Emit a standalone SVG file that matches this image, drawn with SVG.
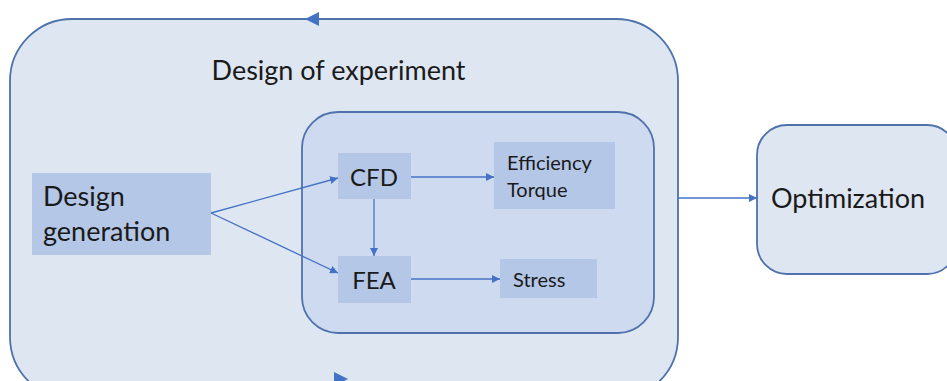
<svg xmlns="http://www.w3.org/2000/svg" width="947" height="381" viewBox="0 0 947 381">
<style>
.t{font-family:Lato,"Open Sans","Liberation Sans",sans-serif;fill:#1a1a1a}
.box{fill:#b4c7e7}
.c{stroke:#4472c4;stroke-width:1.3;fill:none}
.frame{stroke:#4f72ad;stroke-width:1.8}
</style>
<defs>
<marker id="ah" viewBox="0 0 10 10" refX="10" refY="5" markerWidth="8" markerHeight="8" markerUnits="userSpaceOnUse" orient="auto"><path d="M0,0L10,5L0,10z" fill="#4472c4"/></marker>
<marker id="big" viewBox="0 0 10 10" refX="5" refY="5" markerWidth="14" markerHeight="14" markerUnits="userSpaceOnUse" orient="auto"><path d="M0,0L10,5L0,10z" fill="#4472c4"/></marker>
</defs>
<rect width="947" height="381" fill="#ffffff"/>
<g id="doe">
<rect x="10" y="19" width="668" height="380" rx="62" fill="#dee6f2" class="frame"/>
<text class="t" x="338.5" y="80" font-size="27" text-anchor="middle">Design of experiment</text>
</g>
<g id="sim">
<rect x="302" y="112" width="352" height="221" rx="36" fill="#cddaf0" class="frame"/>
</g>
<g id="designgen">
<rect class="box" x="32" y="173" width="179" height="82"/>
<text class="t" x="43" y="206" font-size="27">Design</text>
<text class="t" x="43" y="241" font-size="27">generation</text>
</g>
<g id="cfd">
<rect class="box" x="338" y="153" width="73" height="46"/>
<text class="t" x="374" y="186" font-size="24" text-anchor="middle">CFD</text>
</g>
<g id="fea">
<rect class="box" x="338" y="256" width="73" height="47"/>
<text class="t" x="374" y="289" font-size="24" text-anchor="middle">FEA</text>
</g>
<g id="eff">
<rect class="box" x="494" y="142" width="121" height="67"/>
<text class="t" x="507" y="170" font-size="20">Efficiency</text>
<text class="t" x="507" y="197" font-size="20">Torque</text>
</g>
<g id="stress">
<rect class="box" x="500" y="259" width="97" height="39"/>
<text class="t" x="513" y="287" font-size="20">Stress</text>
</g>
<g id="opt">
<rect x="757" y="125" width="200" height="149" rx="30" fill="#dee6f2" class="frame"/>
<text class="t" x="771" y="208" font-size="27">Optimization</text>
</g>
<g id="connectors">
<path class="c" d="M211,213L338,178" marker-end="url(#ah)"/>
<path class="c" d="M211,213L338,273" marker-end="url(#ah)"/>
<path class="c" d="M411,177L494,177" marker-end="url(#ah)"/>
<path class="c" d="M374,199L374,256" marker-end="url(#ah)"/>
<path class="c" d="M411,279L500,279" marker-end="url(#ah)"/>
<path class="c" d="M678,198L757,198" marker-end="url(#ah)"/>
<path d="M340,19L312,19" stroke="none" fill="none" marker-end="url(#big)"/>
<path d="M320,379L341,379" stroke="none" fill="none" marker-end="url(#big)"/>
</g>
</svg>
